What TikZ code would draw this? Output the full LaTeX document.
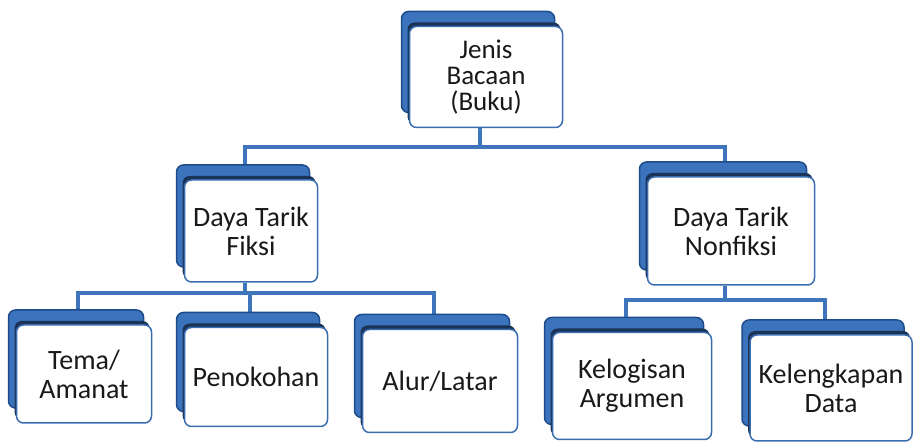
\documentclass[tikz,border=0pt]{standalone}
\usepackage{fontspec}
\setmainfont{Carlito}
\usetikzlibrary{shadows,calc,backgrounds}

\definecolor{linkblue}{HTML}{3F75BA}
\definecolor{plateblue}{HTML}{3B74BD}
\definecolor{plateedge}{HTML}{1E4C8A}
\definecolor{boxedge}{HTML}{3A6DB0}
\definecolor{deepblue}{HTML}{1B3357}

\begin{document}
\begin{tikzpicture}[x=1pt,y=-1pt,
		card/.style={draw=boxedge, line width=1.5pt, fill=white, rounded corners=7pt,
			align=center, inner sep=0pt, text=black!90,
			font=\fontsize{28}{29}\selectfont,
			general shadow={shadow xshift=-8pt, shadow yshift=15pt,
				fill=plateblue, draw=plateedge, line width=1.5pt},
			general shadow={shadow xshift=-2pt, shadow yshift=4pt, fill=deepblue}},
		link/.style={draw=linkblue, line width=3.2pt}]
		\useasboundingbox (0,0) rectangle (916,443);
		% boxes
		\node[card, minimum width=153pt, minimum height=101pt,
			font=\fontsize{27}{26}\selectfont] (root) at (486,77) {Jenis\\Bacaan\\(Buku)};
		\node[card, minimum width=133pt, minimum height=102pt] (fiksi) at (251,231) {Daya Tarik\\Fiksi};
		\node[card, minimum width=167pt, minimum height=108pt] (nonfiksi) at (731,231) {Daya Tarik\\Nonfiksi};
		\node[card, minimum width=135pt, minimum height=98pt] (tema) at (84,374) {Tema/\\Amanat};
		\node[card, minimum width=143pt, minimum height=99pt] (tokoh) at (256,377) {Penokohan};
		\node[card, minimum width=155pt, minimum height=103pt] (alur) at (440,381) {Alur/Latar};
		\node[card, minimum width=159pt, minimum height=107pt] (logis) at (632,386) {Kelogisan\\Argumen};
		\node[card, minimum width=162pt, minimum height=106pt] (lengkap) at (831,388) {Kelengkapan\\Data};
		% connectors
		\coordinate (bar0) at (0,147);
		\coordinate (bar1) at (0,293);
		\coordinate (bar2) at (0,300);
		\begin{scope}[on background layer]
			\foreach \kid in {fiksi,nonfiksi}
				\draw[link] ($(root.south)+(-6,0)$) |- ($(\kid.north |- bar0)+(-6,0)$) -- ($(\kid.north)+(-6,-15)$);
			\foreach \kid in {tema,tokoh,alur}
				\draw[link] ($(fiksi.south)+(-6,0)$) |- ($(\kid.north |- bar1)+(-6,0)$) -- ($(\kid.north)+(-6,-15)$);
			\foreach \kid in {logis,lengkap}
				\draw[link] ($(nonfiksi.south)+(-6,0)$) |- ($(\kid.north |- bar2)+(-6,0)$) -- ($(\kid.north)+(-6,-15)$);
		\end{scope}
	\end{tikzpicture}
\end{document}
